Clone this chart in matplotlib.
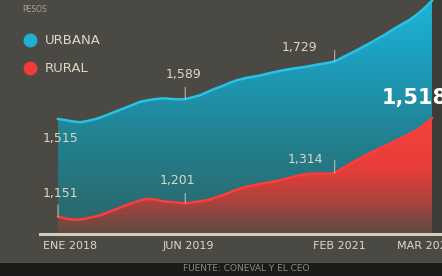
import numpy as np
import matplotlib.pyplot as plt
from matplotlib.colors import LinearSegmentedColormap
from matplotlib.patches import PathPatch, Rectangle

# Canasta (pesos), mensual de ene 2018 a mar 2022
meses = np.arange(51)
urbana = [1515, 1511, 1506, 1503, 1508, 1515, 1524, 1535, 1546, 1557,
          1568, 1579, 1585, 1589, 1592, 1590, 1588, 1589, 1596, 1604,
          1616, 1628, 1638, 1650, 1660, 1667, 1672, 1677, 1684, 1690,
          1696, 1701, 1705, 1709, 1714, 1719, 1724, 1729, 1744, 1758,
          1772, 1787, 1802, 1818, 1834, 1852, 1868, 1884, 1904, 1928,
          1955]
rural = [1151, 1145, 1140, 1141, 1146, 1152, 1160, 1171, 1182, 1193,
         1203, 1212, 1218, 1215, 1209, 1206, 1204, 1201, 1205, 1209,
         1213, 1222, 1231, 1242, 1253, 1262, 1268, 1273, 1278, 1283,
         1289, 1296, 1304, 1309, 1311, 1312, 1311, 1314, 1331, 1347,
         1363, 1378, 1393, 1405, 1418, 1432, 1446, 1460, 1474, 1495,
         1518]

tick_meses = [0, 17, 37, 50]
tick_labels = ["ENE 2018", "JUN 2019", "FEB 2021", "MAR 2022"]

etiq_urbana = [0, 17, 37]
etiq_rural = [0, 17, 37]

BG = "#4a4943"
TXT = "#dcd8c6"
BASE, TOP = 1087, 1958

fig = plt.figure(figsize=(4.42, 2.76), dpi=100, facecolor=BG)
ax = fig.add_axes([40 / 442, 42 / 276, 402 / 442, 234 / 276])
ax.set_facecolor("none")


def area_degradado(ax, x, y, colores, top, z):
    poly = ax.fill_between(x, y, BASE, color="none", lw=0)
    patch = PathPatch(poly.get_paths()[0], transform=ax.transData,
                      facecolor="none", edgecolor="none")
    ax.add_patch(patch)
    cmap = LinearSegmentedColormap.from_list("g", colores)
    grad = np.linspace(0, 1, 256).reshape(-1, 1)
    im = ax.imshow(grad, cmap=cmap, aspect="auto", origin="lower",
                   extent=[x[0], x[-1], BASE, top], zorder=z)
    im.set_clip_path(patch)


area_degradado(ax, meses, urbana,
               [(0, "#2d6466"), (0.4, "#22808f"), (0.75, "#1d9fbe"), (1, "#1cb4d8")],
               TOP, 1)
area_degradado(ax, meses, rural,
               [(0, "#5c4a45"), (0.3, "#b0423d"), (0.55, "#e63d3a"), (1, "#f5423c")],
               max(rural), 2)
ax.plot(meses, urbana, color="#28c2e6", lw=1.8, zorder=3)
ax.plot(meses, rural, color="#ff3b3b", lw=1.8, zorder=3)

# franja oscura a la derecha
ax.axvspan(meses[-1], 51.4, color="#3d3c38", lw=0, zorder=0)

# linea base
ax.axhline(BASE, color="#d3cdb6", lw=2.2, zorder=5, clip_on=False)


def etiqueta(i, serie, dx, dy, ha, guia):
    y = serie[i]
    ax.annotate(f"{y:,}", xy=(i, y), xytext=(dx, dy), textcoords="offset pixels",
                ha=ha, va="center", color=TXT, fontsize=9, zorder=6)
    if guia:
        ax.annotate("", xy=(i, y), xytext=(0, guia), textcoords="offset pixels",
                    arrowprops=dict(arrowstyle="-", lw=0.6, color=TXT,
                                    shrinkA=0, shrinkB=0), zorder=6)


etiqueta(etiq_urbana[0], urbana, -15, -19, "left", 0)
etiqueta(etiq_urbana[1], urbana, -2, 25, "center", 12)
etiqueta(etiq_urbana[2], urbana, -17, 14, "right", 11)
etiqueta(etiq_rural[0], rural, -15, 23, "left", 12)
etiqueta(etiq_rural[1], rural, -8, 23, "center", 10)
etiqueta(etiq_rural[2], rural, -12, 14, "right", 13)

ax.annotate(f"{rural[-1]:,}", xy=(meses[-1], rural[-1]), xytext=(-50, 20),
            textcoords="offset pixels", ha="left", va="center", color="white",
            fontsize=15, fontweight="bold", zorder=7, annotation_clip=False)

# etiquetas del eje x
tick_dx = [(-15, "left"), (3, "center"), (5, "center"), (-35, "left")]
for m, lab, (dx, ha) in zip(tick_meses, tick_labels, tick_dx):
    ax.annotate(lab, xy=(m, BASE), xytext=(dx, -12), textcoords="offset pixels",
                ha=ha, va="center", color=TXT, fontsize=8, annotation_clip=False)

ax.set_xlim(-2.41, 51.34)
ax.set_ylim(BASE, TOP)
ax.axis("off")

# leyenda
fig.text(22 / 442, 1 - 9 / 276, "PESOS", color="#a9a697", fontsize=5.5, va="center")
for yy, col, lab in [(40, "#1fb0d4", "URBANA"), (68, "#ee3b3b", "RURAL")]:
    fig.lines.append(plt.Line2D([30 / 442], [1 - yy / 276], marker="o", ms=9,
                                color=col, transform=fig.transFigure))
    fig.text(45 / 442, 1 - yy / 276, lab, color=TXT, fontsize=9.5, va="center")

# franja inferior con fuente
fig.patches.append(Rectangle((0, 0), 1, 13 / 276, transform=fig.transFigure,
                             facecolor="#1b1b19", edgecolor="none"))
fig.text(183 / 442, 3 / 276, "FUENTE: CONEVAL Y EL CEO", color="#8c8a80",
         fontsize=6.5, va="bottom")

fig.savefig("out.png", dpi=100, facecolor=BG)
